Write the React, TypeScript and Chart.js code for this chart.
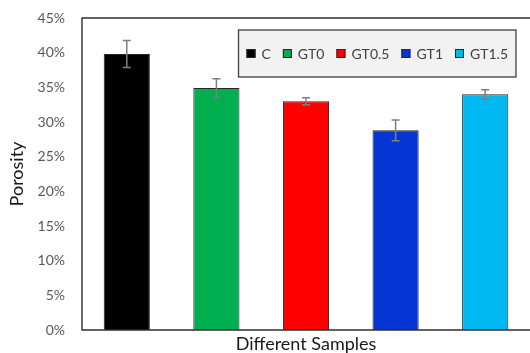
import { useEffect, useRef } from 'react';
import { Chart, registerables } from 'chart.js';

Chart.register(...registerables);

const categories = ['C', 'GT0', 'GT0.5', 'GT1', 'GT1.5'];
const porosity = [0.398, 0.349, 0.330, 0.288, 0.340];
const errors = [0.0195, 0.0135, 0.005, 0.015, 0.0065];
const colors = ['#000000', '#00b050', '#ff0000', '#0535d2', '#00b8f2'];
const yMin = 0;
const yMax = 0.45;
const yStep = 0.05;
const yTitle = 'Porosity';
const xTitle = 'Different Samples';

const FONT = 'Lato';

const framePlugin = {
  id: 'frame',
  afterDatasetsDraw(chart: any) {
    const { ctx, chartArea } = chart;
    const { left, top, right, bottom } = chartArea;
    ctx.save();
    ctx.strokeStyle = '#303030';
    ctx.lineWidth = 1.4;
    ctx.beginPath();
    ctx.moveTo(right + 2, top);
    ctx.lineTo(left, top);
    ctx.lineTo(left, bottom);
    ctx.lineTo(right + 2, bottom);
    ctx.stroke();
    ctx.restore();
  },
};

const errorBarPlugin = {
  id: 'errorBars',
  afterDatasetsDraw(chart: any) {
    const { ctx } = chart;
    const meta = chart.getDatasetMeta(0);
    const ys = chart.scales.y;
    ctx.save();
    ctx.strokeStyle = '#7f7f7f';
    ctx.lineWidth = 1.5;
    meta.data.forEach((bar: any, i: number) => {
      const x = bar.x;
      const t = ys.getPixelForValue(porosity[i] + errors[i]);
      const b = ys.getPixelForValue(porosity[i] - errors[i]);
      ctx.beginPath();
      ctx.moveTo(x, t);
      ctx.lineTo(x, b);
      ctx.moveTo(x - 4, t);
      ctx.lineTo(x + 4, t);
      ctx.moveTo(x - 4, b);
      ctx.lineTo(x + 4, b);
      ctx.stroke();
    });
    ctx.restore();
  },
};

const legendPlugin = {
  id: 'boxLegend',
  afterDraw(chart: any) {
    const { ctx, chartArea } = chart;
    ctx.save();
    ctx.font = `14px ${FONT}`;
    const sq = 9;
    const gapText = 6;
    const gapItem = 12;
    const pad = 8;
    const widths = categories.map((c) => ctx.measureText(c).width);
    let content = 0;
    widths.forEach((w, i) => {
      content += sq + gapText + w + (i < widths.length - 1 ? gapItem : 0);
    });
    const boxW = content + pad * 2;
    const boxH = 47;
    const boxRight = chartArea.right - 14;
    const boxLeft = boxRight - boxW;
    const boxTop = chartArea.top + 12;
    ctx.fillStyle = '#f2f2f2';
    ctx.fillRect(boxLeft, boxTop, boxW, boxH);
    ctx.strokeStyle = '#404040';
    ctx.lineWidth = 1.3;
    ctx.strokeRect(boxLeft, boxTop, boxW, boxH);
    const cy = boxTop + boxH / 2;
    let x = boxLeft + pad;
    ctx.textBaseline = 'middle';
    ctx.textAlign = 'left';
    categories.forEach((c, i) => {
      ctx.fillStyle = colors[i];
      ctx.fillRect(x, cy - sq / 2, sq, sq);
      ctx.strokeStyle = '#262626';
      ctx.lineWidth = 1;
      ctx.strokeRect(x + 0.5, cy - sq / 2 + 0.5, sq - 1, sq - 1);
      x += sq + gapText;
      ctx.fillStyle = '#404040';
      ctx.fillText(c, x, cy + 1);
      x += widths[i] + gapItem;
    });
    ctx.restore();
  },
};

export default function App() {
  const ref = useRef<HTMLCanvasElement | null>(null);

  useEffect(() => {
    if (!ref.current) return;
    const chart = new Chart(ref.current, {
      type: 'bar',
      data: {
        labels: categories,
        datasets: [
          {
            data: porosity,
            backgroundColor: colors,
            borderColor: '#262626',
            borderWidth: 1,
            barPercentage: 0.515,
            categoryPercentage: 1,
          },
        ],
      },
      options: {
        animation: false,
        responsive: true,
        maintainAspectRatio: false,
        layout: { padding: { top: 18, left: 0, right: 0, bottom: 0 } },
        plugins: {
          legend: { display: false },
          tooltip: { enabled: false },
        },
        scales: {
          x: {
            grid: { display: false, drawTicks: false },
            border: { display: false },
            ticks: { display: false },
            title: {
              display: true,
              text: xTitle,
              color: '#1a1a1a',
              font: { family: FONT, size: 18 },
              padding: { top: 0, bottom: -2 },
            },
            afterFit(scale: any) {
              scale.height = 23;
              scale.paddingLeft = 0;
              scale.paddingRight = 0;
            },
          },
          y: {
            min: yMin,
            max: yMax,
            grid: { display: false, drawTicks: false },
            border: { display: false },
            ticks: {
              stepSize: yStep,
              padding: 17,
              color: '#595959',
              font: { family: FONT, size: 14 },
              callback: (v: any) => `${Math.round(Number(v) * 100)}%`,
            },
            title: {
              display: true,
              text: yTitle,
              color: '#1a1a1a',
              font: { family: FONT, size: 18 },
              padding: { top: 6, bottom: 0 },
            },
            afterFit(scale: any) {
              scale.width = 82;
              scale.paddingTop = 0;
              scale.paddingBottom = 0;
            },
          },
        },
      },
      plugins: [framePlugin, errorBarPlugin, legendPlugin],
    });
    return () => chart.destroy();
  }, []);

  return (
    <div style={{ position: 'absolute', left: 0, top: 0, width: 530, height: 353, background: '#fff' }}>
      <canvas ref={ref} />
    </div>
  );
}
